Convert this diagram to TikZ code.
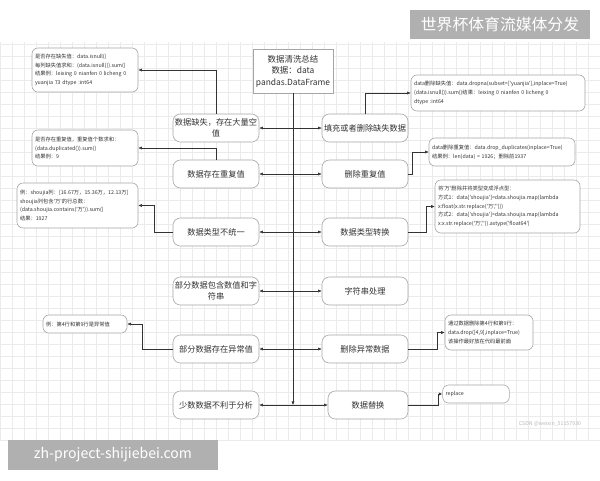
\documentclass[tikz,border=0pt]{standalone}
\usepackage{fontspec}
\setmainfont{Noto Sans CJK SC}[Ligatures=TeXOff]
\usetikzlibrary{arrows.meta,positioning}
\tikzset{
  gridline/.style={draw=gray!16, line width=0.3pt},
  sumbox/.style={draw=gray!70, fill=white, line width=0.5pt, minimum width=24mm, minimum height=13.2mm, align=center, inner sep=0.5mm, text=black!80, font=\fontsize{7.2}{9.8}\selectfont},
  stepbox/.style={draw=gray!70, fill=white, line width=0.5pt, rounded corners=2.2mm, minimum width=25.8mm, minimum height=8.4mm, align=center, inner sep=0.4mm, text=black!80, font=\fontsize{7}{9}\selectfont},
  infobox/.style={draw=gray!70, fill=white, line width=0.5pt, rounded corners=1.8mm, align=left, inner sep=0.8mm, text=black!80, font=\fontsize{4.5}{7.4}\selectfont},
  link/.style={draw=black!80, line width=0.45pt, -{Latex[length=3pt,width=2.6pt]}},
  bilink/.style={draw=black!80, line width=0.45pt, {Latex[length=3pt,width=2.6pt]}-{Latex[length=3pt,width=2.6pt]}},
  banner/.style={fill=gray!62, text=white, inner sep=0pt},
}

\begin{document}
\begin{tikzpicture}[x=0.3mm, y=-0.3mm]
  \useasboundingbox (0,0) rectangle (600,480);
  \fill[white] (0,0) rectangle (600,480);

  %% === background grid ===
  \foreach \gx in {0,12,...,600} \draw[gridline] (\gx,42) -- (\gx,440);
  \foreach \gy in {44,56,...,440} \draw[gridline] (0,\gy) -- (600,\gy);

  %% === summary node ===
  \node[sumbox] (sum) at (293,71) {数据清洗总结\\数据：data\\pandas.DataFrame};

  %% === problems (left) ===
  \node[stepbox] (miss)  at (216,128) {数据缺失，存在大量空\\值};
  \node[stepbox] (dup)   at (216,174) {数据存在重复值};
  \node[stepbox] (type)  at (216,232) {数据类型不统一};
  \node[stepbox] (mixed) at (216,291) {部分数据包含数值和字\\符串};
  \node[stepbox] (outl)  at (216,349) {部分数据存在异常值};
  \node[stepbox] (few)   at (216,405) {少数数据不利于分析};

  %% === fixes (right) ===
  \node[stepbox] (fill)  at (365,128) {填充或者删除缺失数据};
  \node[stepbox] (dedup) at (365,174) {删除重复值};
  \node[stepbox] (conv)  at (365,232) {数据类型转换};
  \node[stepbox] (str)   at (365,291) {字符串处理};
  \node[stepbox] (drop)  at (365,349) {删除异常数据};
  \node[stepbox, minimum width=24mm] (repl) at (368,405) {数据替换};

  %% === notes ===
  \node[infobox, minimum width=31.8mm, minimum height=13.2mm, text width=30mm] (nmiss) at (85,70) {%
    是否存在缺失值：data.isnull()\\
    每列缺失值求和：(data.isnull()).sum()\\
    结果例：leixing 0 nianfen 0 licheng 0\\
    yuanjia 73 dtype :int64};
  \node[infobox, minimum width=52.2mm, minimum height=10.8mm, text width=50.4mm] (nfill) at (498,93) {%
    data删除缺失值：data.dropna(subset=['yuanjia'],inplace=True)\\
    (data.isnull()).sum()结果：leixing 0 nianfen 0 licheng 0\\
    dtype :int64};
  \node[infobox, minimum width=31.8mm, minimum height=10.8mm, text width=30mm] (ndup) at (85,148) {%
    是否存在重复值，重复值个数求和：\\
    (data.duplicated()).sum()\\
    结果例：9};
  \node[infobox, minimum width=43.8mm, minimum height=8.4mm, text width=42mm] (ndedup) at (502,152) {%
    data删除重复值：data.drop\_duplicates(inplace=True)\\
    结果例：len(data) = 1926；删除前1937};
  \node[infobox, minimum width=36.3mm, minimum height=13.5mm, text width=34.5mm] (ntype) at (77.5,205.5) {%
    例：shoujia列：[16.67万，15.36万，12.13万]\\
    shoujia列包含'万'的行总数：\\
    (data.shoujia.contains('万')).sum()\\
    结果：1927};
  \node[infobox, minimum width=43.5mm, minimum height=15.9mm, text width=41.7mm] (nconv) at (507.5,206.5) {%
    将'万'删除并将类型变成浮点型：\\
    方式1：data['shoujia']=data.shoujia.map(lambda\\
    x:float(x.str.replace('万','')))\\
    方式2：data['shoujia']=data.shoujia.map(lambda\\
    x:x.str.replace('万','')).astype('float64')};
  \node[infobox, minimum width=25.2mm, minimum height=5.4mm, text width=23.4mm] (noutl) at (85,324) {%
    例：第4行和第9行是异常值};
  \node[infobox, minimum width=26.4mm, minimum height=10.5mm, text width=24.6mm] (ndrop) at (489,332.5) {%
    通过数据删除第4行和第9行：\\
    data.drop([4,9],inplace=True)\\
    该操作最好放在代码最前面};
  \node[infobox, minimum width=20mm, minimum height=5.4mm, text width=18.2mm] (nrepl) at (476,394) {replace};

  %% === trunk ===
  \coordinate (trunkend) at (sum.south |- few.east);
  \draw[link] (sum.south) -- (trunkend);

  %% === problem <-> fix ===
  \draw[bilink] (miss.east)  -- (fill.west);
  \draw[bilink] (dup.east)   -- (dedup.west);
  \draw[bilink] (type.east)  -- (conv.west);
  \draw[bilink] (mixed.east) -- (str.west);
  \draw[bilink] (outl.east)  -- (drop.west);
  \draw[bilink] (few.east)   -- (repl.west);

  %% === notes links ===
  \draw[link] (miss.north) |- (nmiss.east);
  \draw[link] (fill.north) |- (nfill.west);
  \draw[link] (dup.north) |- (ndup.east);
  \draw[link] (dedup.east) -- ++(4,0) |- (ndedup.west);
  \draw[link] (type.west) -- ++(-18,0) |- (ntype.east);
  \draw[link] (conv.east) -- ++(18,0) |- (nconv.west);
  \draw[link] (outl.west) -- ++(-30,0) |- (noutl.east);
  \draw[link] (drop.east) -- ++(29,0) |- (ndrop.west);
  \draw[link] (repl.east) -- ++(30,0) |- (nrepl.west);

  %% === watermarks ===
  \node[text=gray!55, font=\fontsize{4.5}{5}\selectfont] (csdn) at (550,424) {CSDN @weixin\_51157930};
  \node[banner, minimum width=54mm, minimum height=8.7mm, font=\fontsize{13.5}{15}\selectfont] (title) at (500,24.5) {世界杯体育流媒体分发};
  \node[banner, minimum width=63mm, minimum height=9mm, font=\fontsize{12}{14}\selectfont] (site) at (113,455) {zh-project-shijiebei.com};
\end{tikzpicture}
\end{document}
